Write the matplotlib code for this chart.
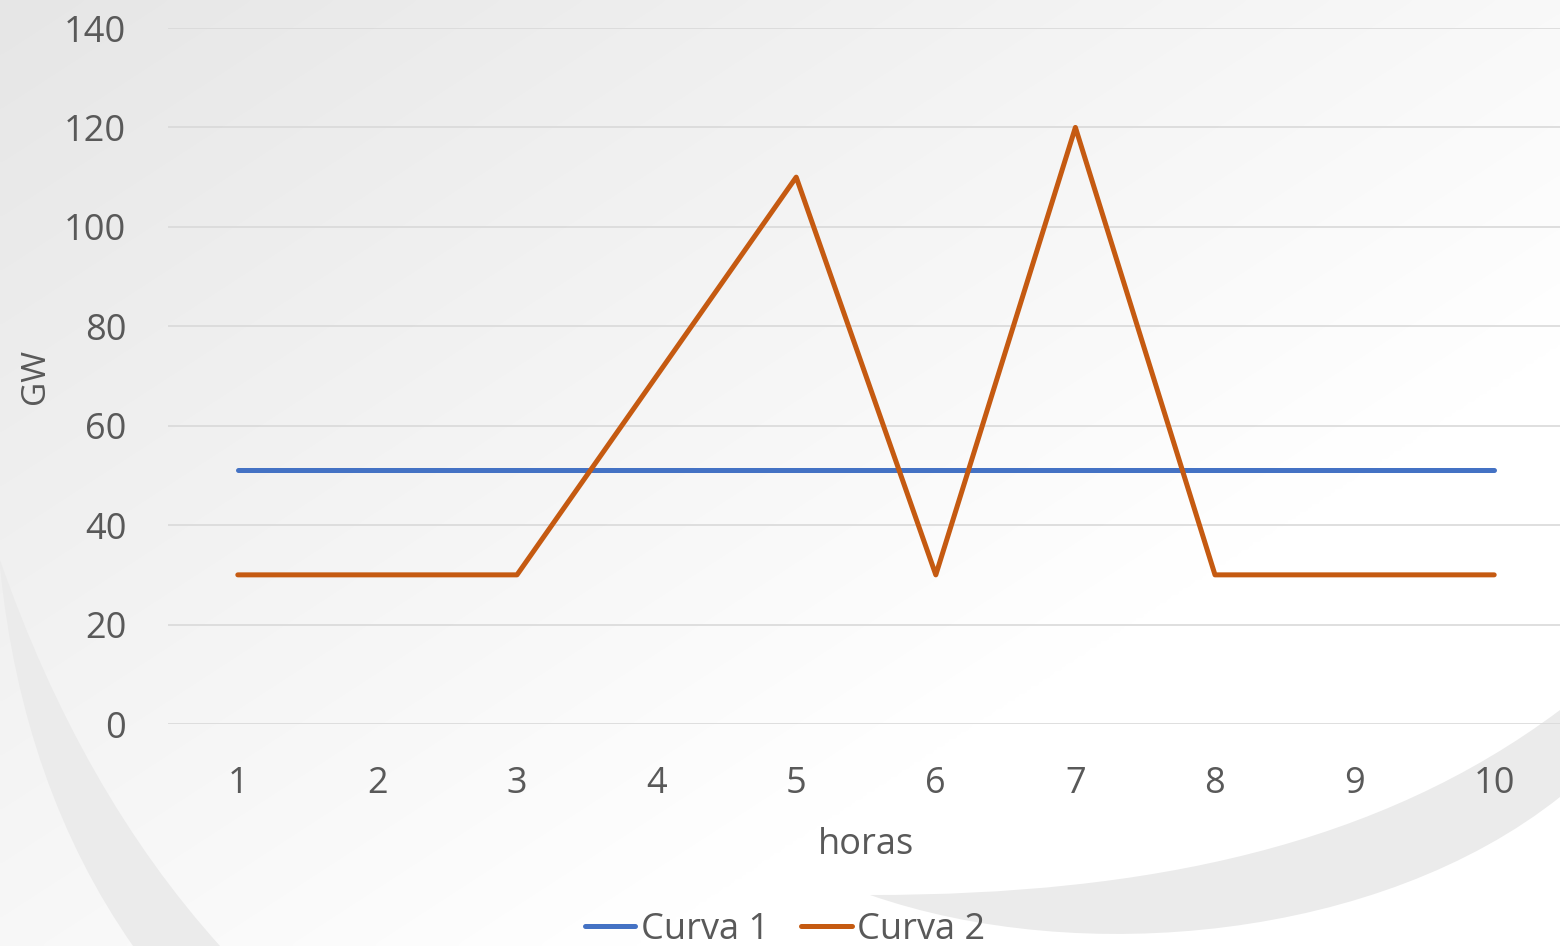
import numpy as np
import matplotlib.pyplot as plt
from matplotlib.path import Path
from matplotlib.patches import PathPatch

# Chart data
horas = [1, 2, 3, 4, 5, 6, 7, 8, 9, 10]
curva_1 = [51, 51, 51, 51, 51, 51, 51, 51, 51, 51]
curva_2 = [30, 30, 30, 70, 110, 30, 120, 30, 30, 30]
y_ticks = [0, 20, 40, 60, 80, 100, 120, 140]

W, H = 1560, 946
TEXT = "#595959"
plt.rcParams['font.family'] = ['Open Sans', 'DejaVu Sans']

fig = plt.figure(figsize=(W / 100, H / 100), dpi=100)

# Background: soft diagonal gradient plus two light swooshes
bg = fig.add_axes([0, 0, 1, 1], zorder=0)
xx, yy = np.meshgrid(np.linspace(0, 1, 400), np.linspace(0, 1, 250))
shade = np.clip(0.75 * xx + 0.7 * yy, 0, 1)
level = (230 + 25 * shade) / 255
bg.imshow(np.dstack([level, level, level]), extent=(0, W, H, 0), aspect='auto', interpolation='bicubic')

swoosh_color = "#ebebeb"
left_band = Path(
    [(0, 567), (22, 787), (133, 946), (140, 960), (225, 960), (220, 946), (81, 792), (0, 560), (0, 567)],
    [Path.MOVETO, Path.CURVE3, Path.CURVE3, Path.LINETO, Path.LINETO, Path.LINETO,
     Path.CURVE3, Path.CURVE3, Path.CLOSEPOLY])
right_band = Path(
    [(870, 895), (1080, 968), (1380, 940), (1560, 797), (1570, 790), (1570, 705), (1560, 710),
     (1380, 845), (1150, 895), (870, 895)],
    [Path.MOVETO, Path.CURVE4, Path.CURVE4, Path.CURVE4, Path.LINETO, Path.LINETO, Path.LINETO,
     Path.CURVE4, Path.CURVE4, Path.CURVE4])
for p in (left_band, right_band):
    bg.add_patch(PathPatch(p, facecolor=swoosh_color, edgecolor='none'))
bg.set_xlim(0, W)
bg.set_ylim(H, 0)
bg.axis('off')

# Main chart
ax = fig.add_axes([168 / W, (H - 724) / H, 1396 / W, 696 / H], zorder=1)
ax.patch.set_alpha(0)

ax.plot(horas, curva_1, color="#4472C4", lw=3.6, solid_capstyle='round', label="Curva 1", zorder=3)
ax.plot(horas, curva_2, color="#C55A11", lw=3.6, solid_capstyle='round', label="Curva 2", zorder=3)

ax.set_xlim(0.5, 10.5)
ax.set_ylim(0, 140)
ax.set_xticks(horas)
ax.set_yticks(y_ticks)
ax.grid(axis='y', color="#d9d9d9", lw=1.2)
ax.set_axisbelow(True)
for s in ax.spines.values():
    s.set_visible(False)
ax.tick_params(length=0, labelsize=26, labelcolor=TEXT)
ax.tick_params(axis='x', pad=30)
ax.tick_params(axis='y', pad=30)

ax.set_xlabel("horas", fontsize=26, color=TEXT, labelpad=18)
ax.set_ylabel("GW", fontsize=24, color=TEXT, labelpad=9)

ax.legend(loc='center', bbox_to_anchor=(785 / W, 16 / H), bbox_transform=fig.transFigure,
          ncol=2, frameon=False, fontsize=26, labelcolor=TEXT,
          handlelength=1.4, handletextpad=0.15, columnspacing=0.9)

fig.savefig("out.png", dpi=100)
